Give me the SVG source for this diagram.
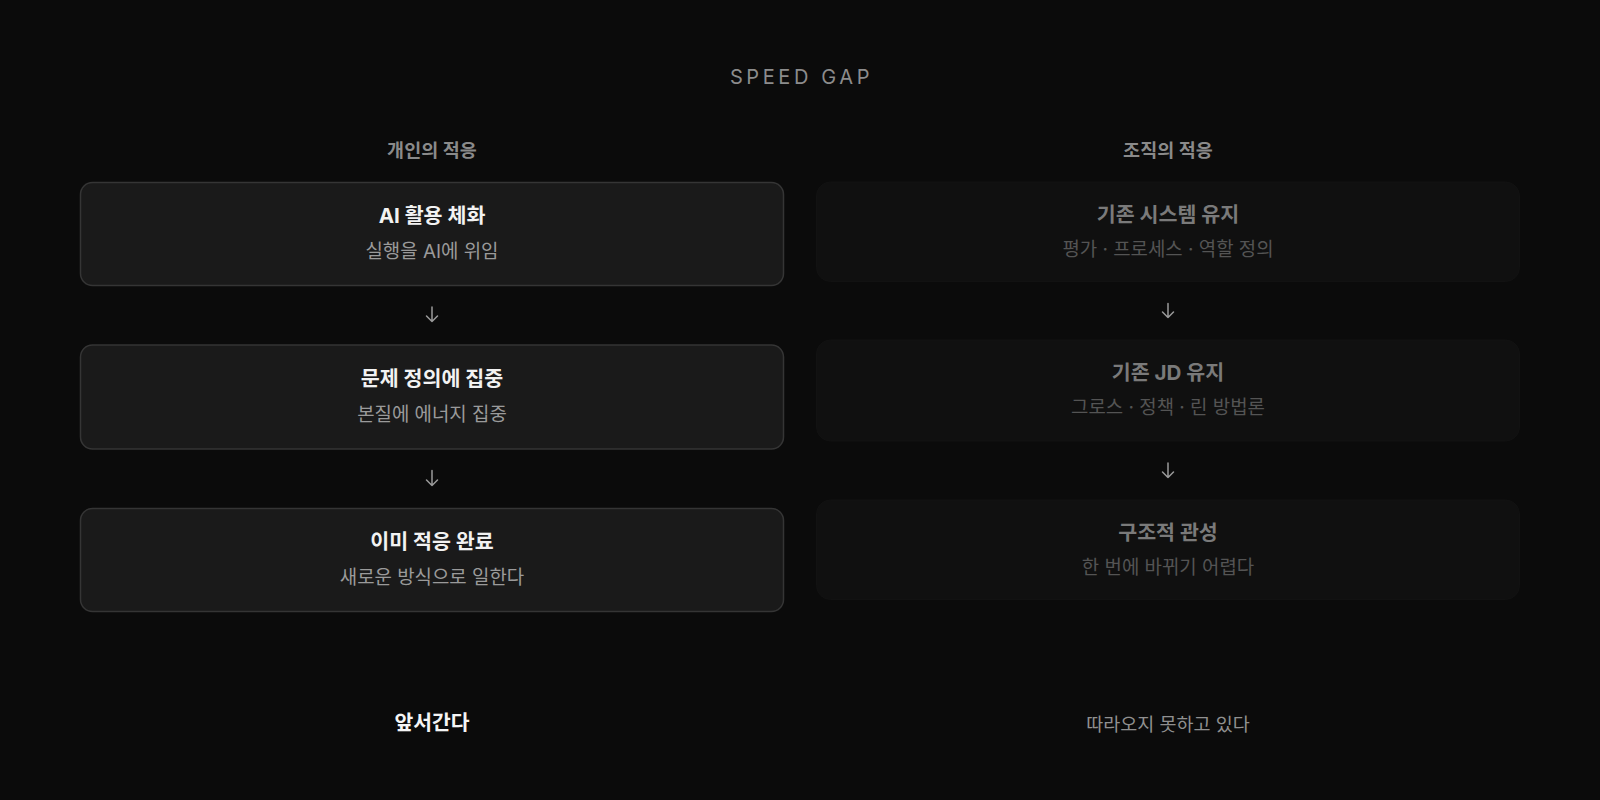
<svg xmlns="http://www.w3.org/2000/svg" width="1600" height="800" viewBox="0 0 1600 800">
  <defs>
    <style>
      text { font-family: Inter, "Noto Sans CJK KR", sans-serif; text-anchor: middle; }
      .title { font-size: 20px; fill: #8c8c8c; letter-spacing: 3.6px; }
      .col { font-size: 18.5px; font-weight: 600; fill: #8a8a8a; }
      .boxA { fill: #1a1a1a; stroke: #353535; stroke-width: 1.5; }
      .boxB { fill: #101010; stroke: #121212; stroke-width: 1; }
      .tA { font-size: 20.6px; font-weight: 700; fill: #f2f2f2; }
      .sA { font-size: 18.9px; fill: #9a9a9a; }
      .tB { font-size: 20.6px; font-weight: 700; fill: #7a7a7a; }
      .sB { font-size: 18.9px; fill: #545454; }
      .arrow { fill: none; stroke: #9a9a9a; stroke-width: 1.5; stroke-linecap: round; stroke-linejoin: round; }
      .lead { font-size: 20.4px; font-weight: 700; fill: #f5f5f5; }
      .lag { font-size: 18.5px; fill: #909090; }
    </style>
  </defs>
  <rect x="0" y="0" width="1600" height="800" fill="#0b0b0b"/>

  <text class="title" x="801.5" y="84">SPEED GAP</text>

  <text class="col" x="432" y="157">개인의 적응</text>
  <text class="col" x="1168" y="157">조직의 적응</text>

  <g id="node-ai">
    <rect class="boxA" x="80.5" y="182.5" width="703" height="103" rx="12"/>
    <text class="tA" x="432" y="223">AI 활용 체화</text>
    <text class="sA" x="432" y="258">실행을 AI에 위임</text>
  </g>
  <g id="node-problem">
    <rect class="boxA" x="80.5" y="345" width="703" height="104" rx="12"/>
    <text class="tA" x="432" y="385.5">문제 정의에 집중</text>
    <text class="sA" x="432" y="420.5">본질에 에너지 집중</text>
  </g>
  <g id="node-done">
    <rect class="boxA" x="80.5" y="508.5" width="703" height="103" rx="12"/>
    <text class="tA" x="432" y="549">이미 적응 완료</text>
    <text class="sA" x="432" y="584">새로운 방식으로 일한다</text>
  </g>

  <g id="node-system">
    <rect class="boxB" x="816.5" y="182" width="703" height="99.5" rx="14"/>
    <text class="tB" x="1168" y="222">기존 시스템 유지</text>
    <text class="sB" x="1168" y="255.5">평가 · 프로세스 · 역할 정의</text>
  </g>
  <g id="node-jd">
    <rect class="boxB" x="816.5" y="340" width="703" height="101" rx="14"/>
    <text class="tB" x="1168" y="380">기존 JD 유지</text>
    <text class="sB" x="1168" y="414">그로스 · 정책 · 린 방법론</text>
  </g>
  <g id="node-inertia">
    <rect class="boxB" x="816.5" y="500" width="703" height="99.5" rx="14"/>
    <text class="tB" x="1168" y="540">구조적 관성</text>
    <text class="sB" x="1168" y="574">한 번에 바뀌기 어렵다</text>
  </g>

  <g id="connectors">
    <path class="arrow" d="M432 307 V321.5 M426.5 316 L432 321.5 L437.5 316"/>
    <path class="arrow" d="M432 470.5 V485.5 M426.5 480 L432 485.5 L437.5 480"/>
    <path class="arrow" d="M1168 303.5 V317.5 M1162.5 312 L1168 317.5 L1173.5 312"/>
    <path class="arrow" d="M1168 463 V477.5 M1162.5 472 L1168 477.5 L1173.5 472"/>
  </g>

  <text class="lead" x="432" y="730">앞서간다</text>
  <text class="lag" x="1168" y="731">따라오지 못하고 있다</text>
</svg>
